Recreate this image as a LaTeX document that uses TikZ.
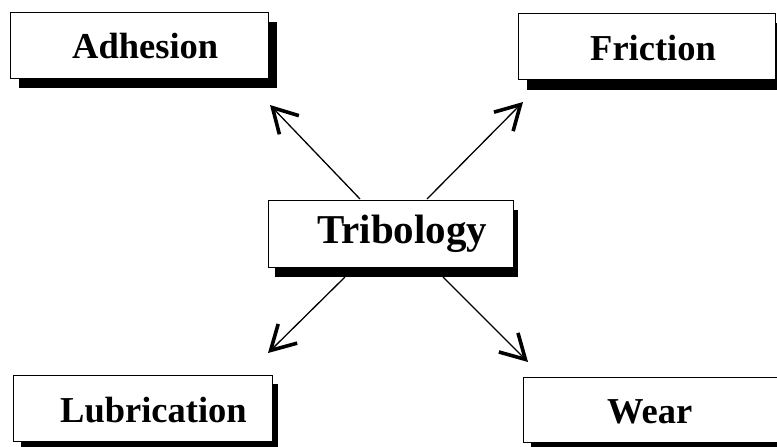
\documentclass[tikz,border=0pt]{standalone}
\usepackage{fontspec}
\setmainfont{Liberation Serif}
\usetikzlibrary{arrows.meta}
\begin{document}
\begin{tikzpicture}[x=1pt,y=-1pt,
  box/.style={draw=black, line width=1.3pt, fill=white, rectangle, inner sep=0pt, anchor=north west},
  shade/.style={fill=black, draw=none},
  lbl/.style={anchor=base west, inner sep=0pt, font=\fontsize{36.5}{40}\selectfont\bfseries},
  biglbl/.style={anchor=base west, inner sep=0pt, font=\fontsize{41}{45}\selectfont\bfseries},
  link/.style={line width=1.3pt, -{Straight Barb[length=24pt,width=27pt,line width=3.6pt]}}
]
\useasboundingbox (0,0) rectangle (777,447);
% shadows
\fill[shade] (19,22) rectangle (277,88);
\fill[shade] (527,23) rectangle (790,90);
\fill[shade] (275,210) rectangle (518,277);
\fill[shade] (21,384) rectangle (278,455);
\fill[shade] (531,386) rectangle (790,455);
% boxes
\node[box, minimum width=258pt, minimum height=66pt] (adh) at (10,12) {};
\node[box, minimum width=257pt, minimum height=66pt] (fri) at (518,13) {};
\node[box, minimum width=245pt, minimum height=67pt] (tri) at (268,200) {};
\node[box, minimum width=259pt, minimum height=66pt] (lub) at (13,375) {};
\node[box, minimum width=270pt, minimum height=65pt] (wea) at (523,377) {};
% labels
\node[lbl] (tadh) at (72,58) {Adhesion};
\node[lbl] (tfri) at (590,60) {Friction};
\node[biglbl] (ttri) at (317,243) {Tribology};
\node[lbl] (tlub) at (60,422) {Lubrication};
\node[lbl] (twea) at (607,423) {Wear};
% arrow ends
\coordinate (sA) at (360,199);
\coordinate (sF) at (427,199);
\coordinate (sL) at (345,277);
\coordinate (sW) at (443,277);
\coordinate (eA) at (270,105);
\coordinate (eF) at (523,102);
\coordinate (eL) at (268,353);
\coordinate (eW) at (528,362);
\draw[link] (sA) -- (eA);
\draw[link] (sF) -- (eF);
\draw[link] (sL) -- (eL);
\draw[link] (sW) -- (eW);
\end{tikzpicture}
\end{document}
